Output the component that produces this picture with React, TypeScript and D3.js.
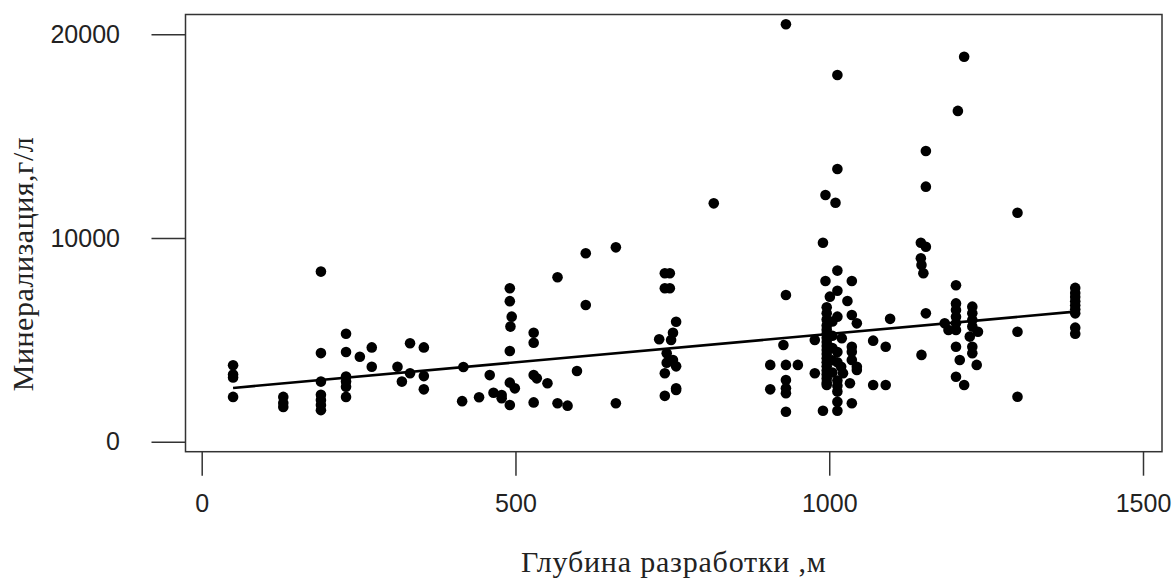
import React, { useRef, useEffect } from "react";
import * as d3 from "d3";

// depth (m) and mineralisation (g/l), point by point
const depth = [
  50, 50, 50, 50,
  130, 130, 130,
  190, 190, 190, 190, 190, 190, 190,
  230, 230, 230, 230, 230, 230,
  252, 271, 271, 312, 319, 332, 332, 354, 354, 354,
  417, 415, 442, 459, 465, 478, 478,
  491, 491, 491, 491, 491, 494, 492, 499,
  529, 529, 529, 529, 534, 551, 567, 567, 583, 598, 612, 612, 660, 660,
  738, 738, 741, 741, 738, 738, 746, 746, 756, 756, 756, 756, 751, 751, 748, 729,
  816,
  931, 931, 927, 931, 931, 931, 931, 931, 906, 906, 950,
  1013, 1013, 1013, 1013, 1013, 1013, 1013, 1013,
  994, 994, 1010, 990, 990, 1001, 1029,
  1036, 1036, 1036, 1036, 1036, 1036, 1044, 1044, 1044, 1033, 977, 977,
  996, 996, 996, 996, 996, 996, 996, 996, 996, 996, 996, 996, 996, 996, 996, 996, 996, 996, 996,
  1005, 1005, 1005, 1005, 1005, 1019, 1022, 1020,
  1013, 1013, 1013, 1013,
  1070, 1070, 1090, 1090, 1097,
  1154, 1154, 1154, 1154, 1146, 1146, 1147, 1147, 1150,
  1202, 1202, 1202, 1202, 1202, 1202, 1202, 1202, 1190, 1184, 1208, 1215, 1215, 1205,
  1228, 1228, 1228, 1228, 1228, 1228, 1237, 1224, 1235,
  1300, 1300, 1300,
  1392, 1392, 1392, 1392, 1392, 1392, 1392, 1392, 1392,
];

const mineral = [
  3750, 3300, 3150, 2200,
  2200, 1900, 1700,
  8350, 4350, 2950, 2300, 2050, 1800, 1550,
  5300, 4400, 3200, 2950, 2700, 2200,
  4170, 4630, 3680, 3680, 2950, 4830, 3360, 4630, 3220, 2570,
  3670, 1990, 2180, 3270, 2400, 2290, 2130,
  7530, 6900, 4450, 2900, 1800, 6140, 5650, 2620,
  5350, 4860, 3270, 1930, 3110, 2870, 8070, 1890, 1770, 3470, 9250, 6710, 9540, 1890,
  8270, 7530, 4340, 3880, 3360, 2250, 8270, 7530, 5890, 3700, 2620, 2540, 5350, 4010, 4990, 5030,
  11700,
  20490, 7200, 4750, 3770, 3030, 2620, 2380, 1470, 3770, 2570, 3770,
  18000, 13390, 8400, 7410, 6140, 2460, 1960, 1520,
  12110, 7890, 11730, 9770, 1520, 7120, 6910,
  7890, 6220, 4660, 4420, 4010, 1890, 5810, 3680, 3520, 2870, 4990, 3360,
  6600, 6300, 6000, 5700, 5500, 5300, 5100, 4900, 4700, 4500, 4300, 4100, 3900, 3700, 3500, 3300, 3100, 2900, 2780,
  5900, 5200, 4600, 4000, 3400, 3680, 3360, 5080,
  4400, 3900, 3000, 2750,
  4960, 2780, 4660, 2780, 6030,
  14270, 12520, 9570, 6300, 9770, 9000, 8680, 4260, 8270,
  7680, 6790, 6470, 6140, 5810, 5480, 4660, 3190, 5480, 5810, 4010, 18900, 2780, 16240,
  6630, 6300, 5970, 5650, 4660, 4340, 5400, 5160, 3770,
  11240, 5400, 2210,
  7550, 7300, 7100, 6900, 6700, 6500, 6300, 5600, 5300,
];

// fitted line as drawn: y = a + b*x over the depth range
const fitIntercept = 2500;
const fitSlope = 2.79;
const fitRange = [50, 1392];

const xTicks = [0, 500, 1000, 1500];
const yTicks = [0, 10000, 20000];

const xTitle = "Глубина разработки ,м";
const yTitle = "Минерализация,г/л";

const App = () => {
  const svgRef = useRef(null);

  useEffect(() => {
    const svg = d3.select(svgRef.current);
    svg.selectAll("*").remove();

    const box = { left: 185.5, right: 1162, top: 14.5, bottom: 451.7 };

    const x = d3.scaleLinear().domain([0, 1500]).range([201.7, 1143]);
    const y = d3.scaleLinear().domain([0, 20000]).range([441.7, 34.3]);

    const tickFont = "'Liberation Sans', Arial, sans-serif";
    const titleFont = "'Liberation Serif', 'Times New Roman', serif";

    // frame
    svg
      .append("rect")
      .attr("x", box.left)
      .attr("y", box.top)
      .attr("width", box.right - box.left)
      .attr("height", box.bottom - box.top)
      .attr("fill", "none")
      .attr("stroke", "#333")
      .attr("stroke-width", 1.5);

    const xAxis = d3
      .axisBottom(x)
      .tickValues(xTicks)
      .tickSize(24)
      .tickPadding(19)
      .tickFormat((d) => `${d}`);

    const gx = svg
      .append("g")
      .attr("transform", `translate(0, ${box.bottom})`)
      .call(xAxis);
    gx.select(".domain").remove();

    const yAxis = d3
      .axisLeft(y)
      .tickValues(yTicks)
      .tickSize(34)
      .tickPadding(31.5)
      .tickFormat((d) => `${d}`);

    const gy = svg
      .append("g")
      .attr("transform", `translate(${box.left}, 0)`)
      .call(yAxis);
    gy.select(".domain").remove();

    svg
      .selectAll(".tick line")
      .attr("stroke", "#333")
      .attr("stroke-width", 1.5);
    svg
      .selectAll(".tick text")
      .attr("fill", "#222")
      .style("font-family", tickFont)
      .style("font-size", "25px");

    // points
    const pts = depth.map((d, i) => [d, mineral[i]]);
    svg
      .append("g")
      .selectAll("circle")
      .data(pts)
      .join("circle")
      .attr("cx", (d) => x(d[0]))
      .attr("cy", (d) => y(d[1]))
      .attr("r", 5.3)
      .attr("fill", "#000");

    // regression line
    svg
      .append("path")
      .datum(fitRange.map((v) => [v, fitIntercept + fitSlope * v]))
      .attr("fill", "none")
      .attr("stroke", "#000")
      .attr("stroke-width", 2.6)
      .attr(
        "d",
        d3
          .line()
          .x((d) => x(d[0]))
          .y((d) => y(d[1]))
      );

    // titles
    svg
      .append("text")
      .attr("x", (box.left + box.right) / 2)
      .attr("y", 572)
      .attr("text-anchor", "middle")
      .attr("fill", "#222")
      .style("font-family", titleFont)
      .style("font-size", "30px")
      .style("letter-spacing", "0.8px")
      .text(xTitle);

    svg
      .append("text")
      .attr("transform", `translate(33, 264) rotate(-90)`)
      .attr("text-anchor", "middle")
      .attr("fill", "#222")
      .style("font-family", titleFont)
      .style("font-size", "30px")
      .style("letter-spacing", "0.5px")
      .text(yTitle);
  }, []);

  return (
    <div style={{ position: "absolute", left: 0, top: 0, background: "#fff" }}>
      <svg ref={svgRef} width={1173} height={579} style={{ display: "block" }}></svg>
    </div>
  );
};

export default App;
